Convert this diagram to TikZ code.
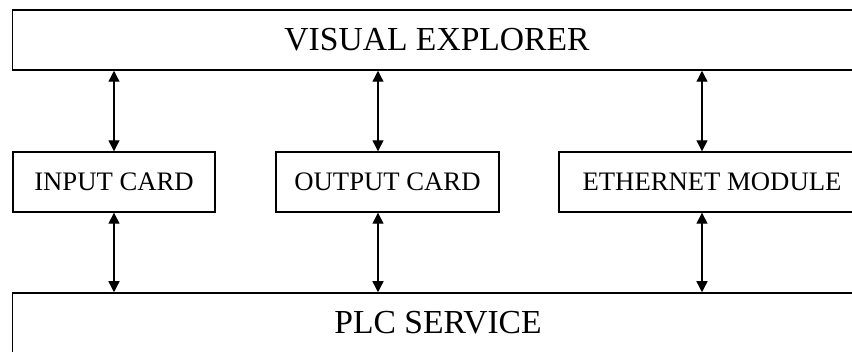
\documentclass[tikz,border=0pt]{standalone}
\usepackage{fontspec}
\setmainfont{Liberation Serif}
\usetikzlibrary{arrows.meta}
\begin{document}
\begin{tikzpicture}[x=1pt,y=-1pt,
  bigbox/.style={draw,line width=1.5pt,rectangle,inner sep=0pt,minimum height=60pt,
    font=\fontsize{33.6}{36}\selectfont},
  card/.style={draw,line width=1.4pt,rectangle,inner sep=0pt,minimum height=60pt,
    font=\fontsize{26.7}{30}\selectfont},
  link/.style={line width=1.3pt,{Triangle[length=11pt,width=11pt]}-{Triangle[length=11pt,width=11pt]}}]
\useasboundingbox (0,0) rectangle (852,352);
\clip (0,0) rectangle (852,352);
% main layers
\node[bigbox,minimum width=849pt] (vis) at (437,40) {VISUAL EXPLORER};
\node[bigbox,minimum width=851pt] (plc) at (438,323) {PLC SERVICE};
% interface cards
\node[card,minimum width=202pt] (inp) at (114,182) {INPUT CARD};
\node[card,minimum width=223pt] (outc) at (387.5,182) {OUTPUT CARD};
\node[card,minimum width=306pt] (eth) at (712,182) {ETHERNET MODULE};
% links between layers
\coordinate (inN) at (inp.north);
\coordinate (inS) at (inp.south);
\coordinate (ouN) at ([xshift=-9.5pt]outc.north);
\coordinate (ouS) at ([xshift=-9.5pt]outc.south);
\coordinate (etN) at ([xshift=-10pt]eth.north);
\coordinate (etS) at ([xshift=-10pt]eth.south);
\draw[link] (inN) -- (inN |- vis.south);
\draw[link] (ouN) -- (ouN |- vis.south);
\draw[link] (etN) -- (etN |- vis.south);
\draw[link] (inS) -- (inS |- plc.north);
\draw[link] (ouS) -- (ouS |- plc.north);
\draw[link] (etS) -- (etS |- plc.north);
\end{tikzpicture}
\end{document}
